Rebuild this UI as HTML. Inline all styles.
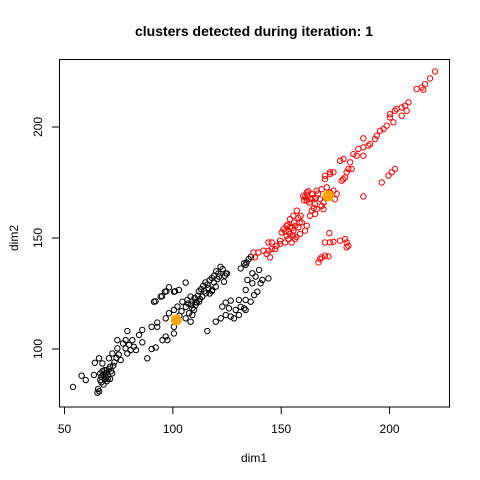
<!DOCTYPE html>
<html><head><meta charset="utf-8"><style>
html,body{margin:0;padding:0;background:#fff}
svg{display:block;font-family:"Liberation Sans",Arial,sans-serif}
</style></head><body>
<svg id="chart" width="480" height="480" viewBox="0 0 480 480">
<rect x="0" y="0" width="480" height="480" fill="#fff"/>
<text x="254" y="36" text-anchor="middle" font-size="14" font-weight="bold">clusters detected during iteration: 1</text>
<rect x="59.5" y="59.5" width="390" height="347.5" fill="none" stroke="#000" stroke-width="1"/>
<g id="xaxis"></g>
<g id="yaxis"></g>
<text x="254" y="462" text-anchor="middle" font-size="12">dim1</text>
<text transform="translate(18,238) rotate(-90)" text-anchor="middle" font-size="12">dim2</text>
<g id="points"></g>
</svg>
<script>
const xTicks=[50,100,150,200];
const yTicks=[100,150,200];
const blackPts=[[53.9,82.9],[57.9,88],[59.8,86],[63.6,88.3],[64,93.8],[65.9,95.8],[65.2,80.3],[66,81],[65.5,82],[66.5,86],[67,87.5],[68,88.5],[68.5,86.5],[69,89],[69.5,90.5],[70,88],[70.5,91],[71,92],[67.5,90],[66.5,89],[68,84],[69.5,85.5],[71,86.5],[72,89],[67.5,93.5],[70.5,95.8],[72.1,98],[74.4,100.3],[75.9,95],[73,94],[74,96],[72.5,92.5],[75,97.5],[67,85],[68.5,90.5],[70,86.5],[71.5,90],[69,87.5],
[74.4,104],[78.2,104],[79.8,101.8],[79,98],[81.3,104],[78.2,100.3],[77,102.5],[80.5,99.5],[79,108.1],[84.4,106.3],[85.9,108.6],[85.9,103],[90.2,110],[92.8,110],[92.8,111.9],[88.2,95.8],[90.2,100],[92.1,100.7],[95.2,104],[96.7,105.6],[97.5,104],[100.5,107],[100.5,110],[83,99.5],[82,101],
[91.3,121.3],[92,121.5],[94.4,123.6],[95,123.8],[96.4,125.8],[97,126],[98.2,127.8],[100.5,125.8],[101,126],[102.8,126.6],[105.9,129.9],[96.7,113.8],[98.2,116.1],[100.5,117.6],[102.1,119.1],[104.4,121.3],[106.7,122.1],[108.2,123.6],[105.9,113.8],[107.5,116.1],[109.8,117.6],[108.2,112.3],[103,115],[104,117],[106,119],[107,120.5],[108.5,120],[109,121.5],[110,123],[111,121],[111.5,124],[112,126],[113,127],[114,128.5],[115,130],[116,129],[117,131],[118,132],[119,133],[120,135],[121,134],[122,137],[123,136],[124,133],[125,134],[118,126],[117,125],[115.9,108.1],[112.5,122.5],[114.5,126],[116.5,127.5],[119,130],[120.5,131.5],[110.5,121],
[119.8,112.3],[122.1,113.8],[124.4,115.3],[126.7,114.6],[128.2,113.8],[130.5,115.3],[129,117.6],[125.9,118.3],[124.4,120.9],[126.7,121.8],[130.5,122.1],[133.6,122.1],[135.9,121.3],[132.9,118.3],[133.6,117.6],[131.3,119],
[133.6,126.6],[134.4,131.1],[136.7,129.6],[138.2,132.6],[139.8,135.6],[140.5,129.6],[139,125.8],[137.5,124.3],[141.3,131.1],[144.1,131.8],[136.7,134.1],[132.9,138.6],[131.3,136.3],[133.6,137.9],
[121.3,132.6],[123.6,130.3],[124.4,134.1],[119.8,128.1],[118.2,126.6],[115.2,125.1],[113.6,123.6],[112.1,121.3],[110.5,119.8],[109,118.3],[122.8,119.1],[109,115.3],[134,139],[135,140.5],[136,141.5]];
const redPts=[[221,225],[218.7,221.9],[216.4,219.3],[214.8,217.8],[212.5,217.1],[215.6,216.8],
[208.7,211.1],[207.2,209.6],[205.6,208.8],[203.3,208.1],[202.5,207.3],[207.9,207.3],[205.6,205.1],[200.2,205.8],[200.2,204.3],[201.8,202.1],[198.7,200.6],[197.2,199.1],[195.6,198.3],[194.1,196.1],[193.3,194.6],[191,192.3],[190.2,191.6],[187.9,194.9],[187.9,190.8],[185.6,190.1],[183.3,187.8],[184.8,187.1],[187.9,187.1],[177.2,184.8],[178.7,185.6],[181.8,184.1],[182.5,181.1],[181,181.1],[180.2,179.6],[179.5,177.3],[177.9,175.8],[174.1,179.6],[172.5,178.8],[170.2,176.5],[170.2,178],[172.5,179.6],[178.7,176.5],
[202.5,181.1],[201,179.6],[199.5,178.1],[196.4,175],[187.9,168.7],
[160.2,169],[161.8,170.5],[164.1,169.8],[166.4,171.3],[168.7,172],[171,172.8],[174.1,171.3],[175.6,169.8],[174.8,167.5],[167.9,167.5],[169.5,166],[165.6,165.3],[161.8,166.8],[161,168.3],[163.3,167.5],[162.5,171],[163,166],[166,168],[160.5,167],[162,169.5],[164.5,168],[167,170],[172.5,170.5],[165,163.5],
[157.2,162.3],[155.6,160],[154.1,158.5],[152.5,155.5],[151,154],[150.2,152.5],[152.5,151],[154.1,151.8],[155.6,153.3],[157.9,154.8],[159.5,157],[161.8,155.5],[161,153.3],[158.7,151.8],[156.4,149.5],[154.8,148],[153.3,149.5],[151.8,148],[149.5,147.3],[147.9,146.5],[145.6,145],[144.1,144.3],[143.3,142.8],[141.8,144.3],[139.5,143.5],[137.2,143.5],[137.9,141.3],[144.8,141.3],[144.1,148],[145.6,148],[147.2,145],[149.5,148.8],[163.3,160],[164.1,162.3],[165.6,160.8],[166.4,163],[168.7,164.5],[169.5,163],[153,156],[156,157],[158,159],[155,154.5],[153.5,153],[157,150.5],[154,155],[156.5,155.5],[158.5,157],[152,153],[155.5,151],[159,160],
[172.2,152.2],[170.2,148],[172.5,148],[174.1,148.3],[177.2,148.8],[179.5,149.5],[180.2,148],[181,146.5],[180.2,145.8],[168.7,141.3],[170.2,142],[171.8,141.7],[167.2,139],[167.9,140.5]];
const centers=[[101.6,113.1],[171.8,169]];
const xs=v=>64.5+(v-50)*2.167;
const ys=v=>349-(v-100)*2.22;
const NS='http://www.w3.org/2000/svg';
function mk(t,a){const e=document.createElementNS(NS,t);for(const k in a)e.setAttribute(k,a[k]);return e;}
const xa=document.getElementById('xaxis'),ya=document.getElementById('yaxis'),pg=document.getElementById('points');
xa.appendChild(mk('line',{x1:xs(xTicks[0]),x2:xs(xTicks[xTicks.length-1]),y1:407,y2:407,stroke:'#000'}));
xTicks.forEach(t=>{
 const l=mk('line',{x1:xs(t),x2:xs(t),y1:407,y2:414,stroke:'#000'});
 
 
 xa.appendChild(l);
 const tx=mk('text',{x:xs(t),y:433,'text-anchor':'middle','font-size':12});
 
 
 tx.textContent=t;xa.appendChild(tx);
});
yTicks.forEach(t=>{
 const l=mk('line',{x1:52,x2:59.5,y1:ys(t),y2:ys(t),stroke:'#000'});
 
 
 ya.appendChild(l);
 const tx=mk('text',{transform:`translate(42,${ys(t)}) rotate(-90)`,'text-anchor':'middle','font-size':12});
 
 
 tx.textContent=t;ya.appendChild(tx);
});
blackPts.forEach(p=>{
 const c=mk('circle',{cx:xs(p[0]),cy:ys(p[1]),r:2.7,fill:'none',stroke:'#000','stroke-width':1});
 
 
 pg.appendChild(c);
});
redPts.forEach(p=>{
 const c=mk('circle',{cx:xs(p[0]),cy:ys(p[1]),r:2.7,fill:'none',stroke:'#f00','stroke-width':1});
 
 
 pg.appendChild(c);
});
centers.forEach(p=>{
 const c=mk('circle',{cx:xs(p[0]),cy:ys(p[1]),r:5.5,fill:'#FFA500'});
 
 
 pg.appendChild(c);
});
</script>
</body></html>
